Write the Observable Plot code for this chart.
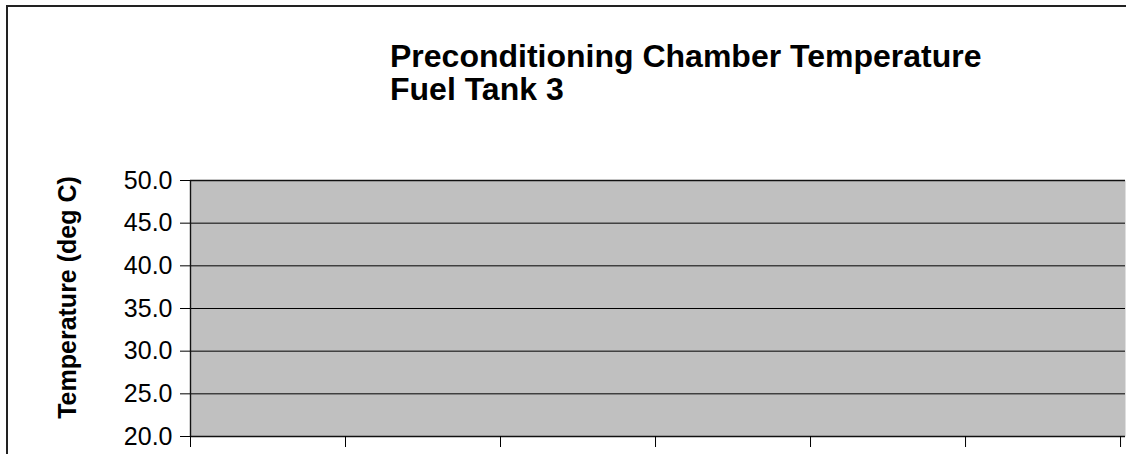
<!DOCTYPE html>
<html>
<head>
<meta charset="utf-8">
<script src="https://cdn.jsdelivr.net/npm/d3@7"></script>
<script src="https://cdn.jsdelivr.net/npm/@observablehq/plot@0.6"></script>
<style>
  html, body { margin: 0; padding: 0; background: #fff; }
  #wrap { position: relative; width: 1129px; height: 454px; overflow: hidden; font-family: "Liberation Sans", Arial, sans-serif; }
  #border { position: absolute; left: 6px; top: 5px; width: 1118px; height: 500px; border-top: 2px solid #222; border-left: 2px solid #222; }
  #title { position: absolute; left: 390px; top: 40px; font-weight: bold; font-size: 32px; line-height: 33px; color: #000; white-space: nowrap; }
  #plot { position: absolute; left: 0; top: 0; }
</style>
</head>
<body>
<div id="wrap">
  <div id="border"></div>
  <div id="title"></div>
  <div id="plot"></div>
</div>
<script>
// Chart content
const titleLines = ["Preconditioning Chamber Temperature", "Fuel Tank 3"];
const yLabel = "Temperature (deg C)";
const yTicks = [20, 25, 30, 35, 40, 45, 50];
const yDomain = [20, 50];
const xTicks = [0, 1, 2, 3, 4, 5, 6];
const xDomain = [0, 6.032];
const series = []; // no data points are drawn in the visible chart

document.getElementById("title").innerHTML = titleLines.join("<br>");

const chart = Plot.plot({
  width: 1129,
  height: 454,
  marginLeft: 190,
  marginRight: 4,
  marginTop: 180,
  marginBottom: 18,
  style: { fontFamily: "'Liberation Sans', Arial, sans-serif", color: "#000", background: "transparent", overflow: "visible" },
  x: { domain: xDomain },
  y: { domain: yDomain },
  marks: [
    Plot.frame({ fill: "#c0c0c0", stroke: null }),
    Plot.ruleY(yTicks, { stroke: "#000", strokeWidth: 1 }),
    Plot.ruleY([yDomain[0], yDomain[1]], { stroke: "#111", strokeWidth: 1.6 }),
    Plot.ruleX([xDomain[0]], { stroke: "#111", strokeWidth: 1.4 }),
    Plot.axisY({ ticks: yTicks, tickFormat: d => d.toFixed(1), tickSize: 10, tickPadding: 8, fontSize: 25, label: null, stroke: "#000" }),
    Plot.axisX({ ticks: xTicks, tickFormat: () => "", tickSize: 11, label: null, stroke: "#000" }),
    Plot.text([yLabel], { frameAnchor: "left", textAnchor: "middle", rotate: -90, dx: -123, dy: -11, fontWeight: "bold", fontSize: 25, fill: "#000" }),
    Plot.line(series, { x: "x", y: "y", stroke: "#000" })
  ]
});
document.getElementById("plot").appendChild(chart);
</script>
</body>
</html>
